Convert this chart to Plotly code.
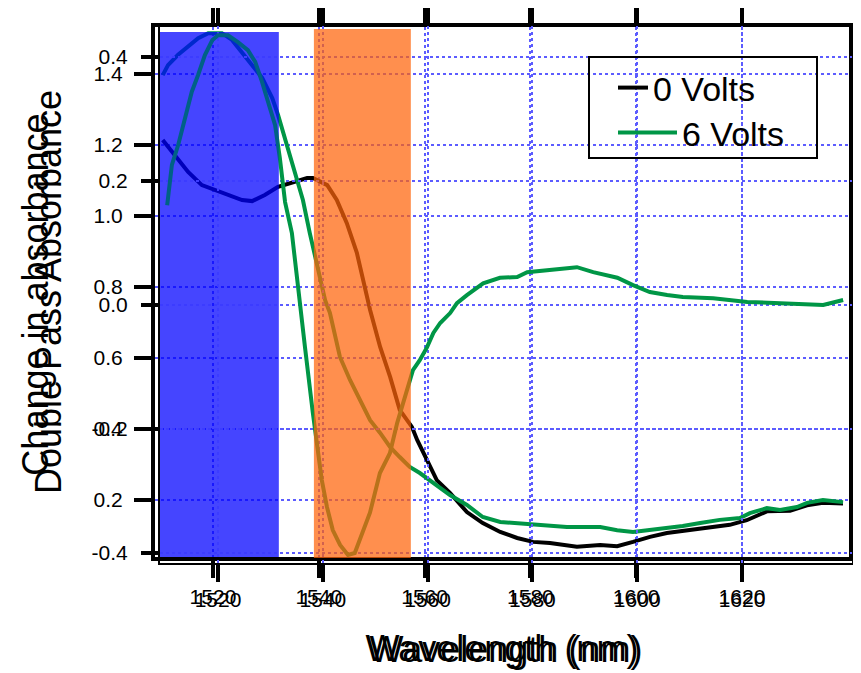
import plotly.graph_objects as go

# 0 Volts - double pass absorbance
wl_0v = [1510.5, 1512.8, 1515.3, 1517.9, 1521.7, 1525.5, 1527.4, 1529.8, 1532.3, 1535.1,
         1537.8, 1538.9, 1541.6, 1543.4, 1545.3, 1547.2, 1548.4, 1549.7, 1551.6, 1553.5,
         1555.3, 1557.6, 1558.6, 1560.5, 1562.3, 1564.8, 1568.0, 1571.0, 1574.3, 1577.5,
         1580.5, 1583.7, 1588.8, 1593.2, 1596.4, 1599.4, 1602.6, 1605.8, 1609.6, 1612.1,
         1617.7, 1620.9, 1624.7, 1629.1, 1632.3, 1635.3, 1639.1]
abs_0v = [1.214, 1.172, 1.124, 1.087, 1.065, 1.045, 1.042, 1.059, 1.082, 1.096,
          1.107, 1.107, 1.087, 1.045, 0.980, 0.896, 0.820, 0.735, 0.631, 0.546,
          0.454, 0.406, 0.369, 0.313, 0.256, 0.220, 0.166, 0.135, 0.110, 0.093,
          0.082, 0.079, 0.068, 0.073, 0.070, 0.082, 0.096, 0.107, 0.115, 0.118,
          0.130, 0.143, 0.168, 0.170, 0.185, 0.192, 0.190]

# 6 Volts - double pass absorbance
wl_6v = [1510.5, 1511.5, 1513.4, 1515.3, 1517.2, 1519.1, 1521.7, 1523.6, 1525.5, 1527.4,
         1529.3, 1531.2, 1532.3, 1535.1, 1537.0, 1538.3, 1539.8, 1541.2, 1542.1, 1544.0,
         1545.9, 1547.8, 1549.7, 1551.6, 1553.5, 1555.3, 1557.2, 1559.1, 1561.6, 1564.8,
         1568.0, 1571.0, 1574.3, 1577.5, 1580.5, 1586.9, 1593.2, 1596.4, 1599.4, 1602.6,
         1605.8, 1608.8, 1612.1, 1615.8, 1619.6, 1621.5, 1624.7, 1627.2, 1630.4, 1632.3,
         1635.3, 1639.1]
abs_6v = [1.397, 1.425, 1.454, 1.476, 1.501, 1.515, 1.515, 1.496, 1.462, 1.425,
          1.389, 1.332, 1.285, 1.138, 1.045, 0.952, 0.856, 0.763, 0.727, 0.603,
          0.538, 0.482, 0.425, 0.389, 0.349, 0.321, 0.293, 0.276, 0.248, 0.214,
          0.186, 0.152, 0.138, 0.135, 0.130, 0.124, 0.124, 0.115, 0.110, 0.115,
          0.121, 0.127, 0.135, 0.144, 0.149, 0.163, 0.177, 0.172, 0.180, 0.192,
          0.200, 0.194]

# change in absorbance (second panel, drawn over the first)
wl_delta = [1510.3, 1511.2, 1512.4, 1513.7, 1515.0, 1516.2, 1517.5, 1518.9, 1520.0, 1521.9,
            1523.8, 1525.7, 1527.1, 1528.4, 1529.5, 1530.9, 1531.8, 1532.8, 1534.1, 1534.9,
            1535.6, 1536.6, 1538.1, 1539.8, 1540.8, 1541.9, 1543.3, 1544.8, 1546.1, 1547.1,
            1549.0, 1550.9, 1552.8, 1554.2, 1555.7, 1557.2, 1558.5, 1559.9, 1561.1, 1562.4,
            1564.3, 1565.6, 1567.5, 1570.6, 1573.8, 1577.1, 1579.0, 1583.4, 1588.5, 1591.6,
            1596.2, 1599.2, 1602.4, 1605.7, 1608.7, 1614.5, 1621.0, 1627.3, 1635.5, 1639.3]
delta_abs = [0.161, 0.226, 0.258, 0.302, 0.344, 0.371, 0.403, 0.427, 0.435, 0.435,
             0.424, 0.411, 0.392, 0.360, 0.327, 0.290, 0.237, 0.166, 0.116, 0.061,
             0.008, -0.068, -0.174, -0.282, -0.326, -0.363, -0.387, -0.403, -0.400, -0.379,
             -0.335, -0.271, -0.239, -0.190, -0.148, -0.105, -0.089, -0.068, -0.045, -0.029,
             -0.013, 0.003, 0.016, 0.035, 0.044, 0.045, 0.053, 0.056, 0.061, 0.053,
             0.044, 0.032, 0.021, 0.016, 0.013, 0.011, 0.005, 0.003, 0.000, 0.008]

x_ticks = [1520, 1540, 1560, 1580, 1600, 1620]
abs_ticks = [0.2, 0.4, 0.6, 0.8, 1.0, 1.2, 1.4]
delta_ticks = [-0.4, -0.2, 0.0, 0.2, 0.4]
delta_ticklabels = ["-0.4", "-0.2", "0.0", "0.2", "0.4"]

blue_band = [1508.93, 1531.6]
orange_band = [1538.3, 1556.8]

FONT = "Liberation Sans, Arial, sans-serif"
GRID = "rgb(92,92,255)"
GREEN = "rgb(0,150,70)"

W, H = 861, 673
PAGE = 8  # the page's body margin shifts the figure


def px_x(px):
    return (px - PAGE) / W


def px_y(px):
    return 1 - (px - PAGE) / H


fig = go.Figure()
fig.add_trace(go.Scatter(x=wl_0v, y=abs_0v, mode="lines", name="0 Volts",
                         line=dict(color="black", width=4), xaxis="x", yaxis="y",
                         legend="legend"))
fig.add_trace(go.Scatter(x=wl_6v, y=abs_6v, mode="lines", name="6 Volts",
                         line=dict(color=GREEN, width=4), xaxis="x", yaxis="y",
                         legend="legend2"))
fig.add_trace(go.Scatter(x=wl_delta, y=delta_abs, mode="lines", name="6 Volts",
                         line=dict(color=GREEN, width=4), xaxis="x2", yaxis="y2",
                         showlegend=False))


def axis_style(lw, standoff):
    return dict(showline=True, linewidth=lw, linecolor="black", mirror="ticks",
                ticks="outside", ticklen=17, tickwidth=4, tickcolor="black",
                showgrid=True, gridcolor=GRID, gridwidth=2, griddash="dot",
                zeroline=False, tickfont=dict(family=FONT, size=21, color="black"),
                ticklabelstandoff=standoff, automargin=False)


fig.update_layout(
    width=W, height=H,
    margin=dict(l=0, r=0, t=0, b=0),
    paper_bgcolor="white", plot_bgcolor="rgba(0,0,0,0)",
    font=dict(family=FONT, color="black"),
    xaxis=dict(domain=[px_x(155), px_x(849)], range=[1509.04, 1640.23], anchor="y",
               tickvals=x_ticks,
               title=dict(text="Wavelength (nm)", font=dict(size=36), standoff=30),
               **axis_style(4, 1)),
    yaxis=dict(domain=[px_y(557), px_y(27)], range=[0.0394, 1.5324], anchor="x",
               tickvals=abs_ticks, tickformat=".1f",
               title=dict(text="Double Pass Absorbance", font=dict(size=36), standoff=22),
               **axis_style(4, 7)),
    xaxis2=dict(domain=[px_x(160), px_x(852)], range=[1508.93, 1640.99], anchor="y2",
                tickvals=x_ticks,
                title=dict(text="Wavelength (nm)", font=dict(size=36), standoff=27),
                **axis_style(2, 0)),
    yaxis2=dict(domain=[px_y(563), px_y(26)], range=[-0.4161, 0.45], anchor="x2",
                tickvals=delta_ticks, ticktext=delta_ticklabels,
                title=dict(text="Change in absorbance", font=dict(size=36), standoff=32),
                **axis_style(2, 9)),
    legend=dict(x=px_x(613), y=px_y(88), xanchor="left", yanchor="middle",
                bgcolor="rgba(0,0,0,0)", borderwidth=0,
                font=dict(family=FONT, size=34, color="black")),
    legend2=dict(x=px_x(613), y=px_y(133), xanchor="left", yanchor="middle",
                 bgcolor="rgba(0,0,0,0)", borderwidth=0, itemwidth=59,
                 font=dict(family=FONT, size=34, color="black")),
)

# shaded bands: blue lies over the first panel's curves, the orange one over everything
fig.add_shape(type="rect", xref="x2", yref="y2", x0=blue_band[0], x1=blue_band[1],
              y0=-0.4065, y1=0.4403, fillcolor="rgb(0,0,255)", opacity=0.585,
              line_width=0, layer="below")
fig.add_shape(type="rect", xref="x2", yref="y2", x0=blue_band[0], x1=blue_band[1],
              y0=-0.4065, y1=0.4403, fillcolor="rgb(0,0,255)", opacity=0.35,
              line_width=0, layer="above")
fig.add_shape(type="rect", xref="x2", yref="y2", x0=orange_band[0], x1=orange_band[1],
              y0=-0.4081, y1=0.4452, fillcolor="rgb(255,100,10)", opacity=0.72,
              line_width=0, layer="above")
# legend frame
fig.add_shape(type="rect", xref="paper", yref="paper", x0=px_x(589), x1=px_x(817),
              y0=px_y(158), y1=px_y(57), line=dict(color="black", width=2),
              fillcolor="rgba(0,0,0,0)", layer="above")

fig.write_html("out.html")
